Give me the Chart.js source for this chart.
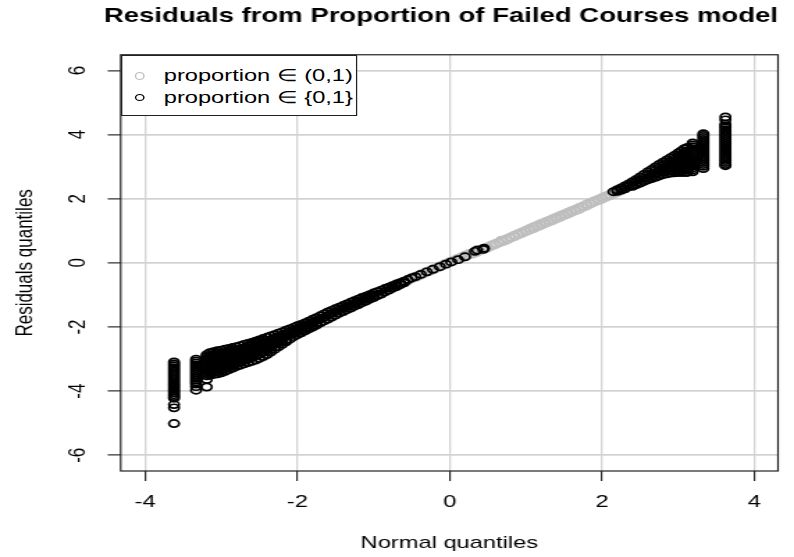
<!DOCTYPE html>
<html>
<head>
<meta charset="utf-8">
<script src="https://cdn.jsdelivr.net/npm/chart.js@4/dist/chart.umd.min.js"></script>
<style>
  html, body { margin: 0; padding: 0; background: #fff; overflow: hidden; }
  /* la figura original está estirada en horizontal: se dibuja a 571px y se escala a 794px */
  #lienzo { position: relative; width: 571px; height: 557px; transform: scaleX(1.3905); transform-origin: 0 0; }
  #grafica { position: absolute; left: 0; top: 0; }
  #leyenda { position: absolute; left: 86.8px; top: 55px; width: 170px; height: 61px; box-sizing: border-box;
             border: 1.2px solid #222; background: #fff; font: 17px "Liberation Sans", Arial, sans-serif; color: #000; }
  .fila { position: absolute; left: 0; height: 20px; line-height: 20px; white-space: nowrap; }
  .circulo { position: absolute; left: 9.3px; top: 6.3px; width: 7.4px; height: 7.4px; border-radius: 50%;
             border: 1.1px solid; box-sizing: border-box; }
  .texto { position: absolute; left: 30px; top: 0; }
</style>
</head>
<body>
<div id="lienzo">
  <canvas id="grafica" width="571" height="557"></canvas>
  <div id="leyenda">
    <div class="fila" style="top: 10px;"><span class="circulo" style="border-color: #bebebe;"></span><span class="texto">proportion ∈ (0,1)</span></div>
    <div class="fila" style="top: 31.5px;"><span class="circulo" style="border-color: #000;"></span><span class="texto">proportion ∈ {0,1}</span></div>
  </div>
</div>
<script>
const titulo = 'Residuals from Proportion of Failed Courses model';
const tituloX = 'Normal quantiles';
const tituloY = 'Residuals quantiles';
const etiquetaGris = 'proportion ∈ (0,1)';
const etiquetaNegra = 'proportion ∈ {0,1}';

const xTicks = [-4, -2, 0, 2, 4];
const yTicks = [-6, -4, -2, 0, 2, 4, 6];

// proporciones en (0,1): cuantil normal -> residuos
const grayX = [-1.00, -0.95, -0.90, -0.85, -0.80, -0.75, -0.70, -0.65, -0.60, -0.55, -0.50, -0.45, -0.40, -0.35,
  -0.30, -0.25, -0.20, -0.15, -0.10, -0.05, 0.00, 0.05, 0.10, 0.15, 0.20, 0.25, 0.30, 0.35, 0.40, 0.45, 0.50,
  0.55, 0.60, 0.65, 0.68, 0.70, 0.75, 0.80, 0.85, 0.90, 0.95, 1.00, 1.05, 1.10, 1.15, 1.20, 1.25, 1.30, 1.35,
  1.40, 1.45, 1.50, 1.55, 1.60, 1.65, 1.70, 1.75, 1.80, 1.85, 1.90, 1.95, 2.00, 2.05, 2.10, 2.15, 2.20, 2.25];
const grayY = [[-1.00, -0.96], [-0.96, -0.92], [-0.91, -0.87], [-0.86, -0.82], [-0.82, -0.78], [-0.76, -0.72],
  [-0.71, -0.67], [-0.66, -0.62], [-0.61, -0.57], [-0.56, -0.52], [-0.50, -0.46], [-0.46, -0.42], [-0.41, -0.37],
  [-0.35, -0.31], [-0.30, -0.26], [-0.26, -0.22], [-0.20, -0.16], [-0.15, -0.11], [-0.10, -0.06], [-0.05, -0.01],
  [0.00, 0.04], [0.05, 0.09], [0.10, 0.14], [0.15, 0.19], [0.20, 0.24], [0.25, 0.29], [0.31, 0.27], [0.36, 0.32],
  [0.41, 0.37], [0.46, 0.42], [0.51, 0.47], [0.56, 0.52], [0.61, 0.57], [0.66, 0.62], [0.71], [0.71, 0.66],
  [0.76, 0.71], [0.81, 0.77], [0.87, 0.82], [0.92, 0.87], [0.97, 0.92], [1.02, 0.97], [1.08, 1.02], [1.13, 1.07],
  [1.18, 1.12], [1.23, 1.17], [1.28, 1.22], [1.33, 1.27], [1.38, 1.32], [1.43, 1.37], [1.48, 1.42], [1.53, 1.47],
  [1.58, 1.52], [1.63, 1.57], [1.68, 1.62], [1.73, 1.67], [1.78, 1.73], [1.84, 1.78], [1.89, 1.84], [1.94, 1.89],
  [1.99, 1.94], [2.04, 1.99], [2.09, 2.04], [2.14, 2.09], [2.19, 2.14], [2.24, 2.19], [2.29, 2.24]];

// proporciones en {0,1}, cola izquierda
const blackLeftX = [-3.62, -3.33, -3.19, -3.15, -3.10, -3.05, -3.00, -2.95, -2.90, -2.85, -2.80, -2.75, -2.70,
  -2.65, -2.60, -2.55, -2.50, -2.45, -2.40, -2.35, -2.30, -2.25, -2.20, -2.15, -2.10, -2.05, -2.00, -1.95, -1.90,
  -1.85, -1.80, -1.75, -1.70, -1.65, -1.60, -1.55, -1.50, -1.45, -1.40, -1.35, -1.30, -1.25, -1.20, -1.15, -1.10,
  -1.05, -1.00, -0.95, -0.90, -0.85, -0.80, -0.75, -0.70, -0.65, -0.60, -0.55, -0.50, -0.45, -0.38, -0.30, -0.22,
  -0.13, -0.05, 0.02, 0.11, 0.20, 0.33, 0.36, 0.44, 0.45];
const blackLeftY = [
  [-3.09, -3.15, -3.21, -3.27, -3.33, -3.39, -3.45, -3.51, -3.57, -3.63, -3.69, -3.75, -3.81, -3.87, -3.93, -3.99,
   -4.05, -4.11, -4.17, -4.22, -4.42, -4.52, -5.01],
  [-3.00, -3.06, -3.12, -3.18, -3.24, -3.30, -3.36, -3.42, -3.48, -3.54, -3.60, -3.66, -3.72, -3.78, -3.86, -3.97],
  [-2.86, -2.92, -2.98, -3.04, -3.10, -3.16, -3.22, -3.28, -3.34, -3.40, -3.46, -3.52, -3.64, -3.87],
  [-2.80, -2.90, -3.00, -3.10, -3.20, -3.30, -3.40, -3.50],
  [-2.77, -2.85, -2.95, -3.05, -3.15, -3.25, -3.35, -3.48],
  [-2.74, -2.80, -2.90, -3.00, -3.10, -3.20, -3.30, -3.40, -3.46],
  [-2.72, -2.85, -2.95, -3.05, -3.15, -3.25, -3.35, -3.43],
  [-2.69, -2.80, -2.90, -3.00, -3.10, -3.20, -3.30, -3.38],
  [-2.67, -2.75, -2.85, -2.95, -3.05, -3.15, -3.25, -3.33],
  [-2.64, -2.70, -2.80, -2.90, -3.00, -3.10, -3.20, -3.28],
  [-2.61, -2.75, -2.85, -2.95, -3.05, -3.15, -3.23],
  [-2.58, -2.70, -2.80, -2.90, -3.00, -3.10, -3.19],
  [-2.54, -2.65, -2.75, -2.85, -2.95, -3.05, -3.15],
  [-2.51, -2.60, -2.70, -2.80, -2.90, -3.00, -3.11],
  [-2.48, -2.55, -2.65, -2.75, -2.85, -2.95, -3.07],
  [-2.44, -2.50, -2.60, -2.70, -2.80, -2.90, -3.03],
  [-2.40, -2.45, -2.55, -2.65, -2.75, -2.85, -2.98],
  [-2.36, -2.40, -2.50, -2.60, -2.70, -2.80, -2.92],
  [-2.32, -2.45, -2.55, -2.65, -2.75, -2.86],
  [-2.28, -2.40, -2.50, -2.60, -2.70, -2.78],
  [-2.24, -2.35, -2.45, -2.55, -2.63, -2.70],
  [-2.19, -2.30, -2.40, -2.50, -2.62],
  [-2.15, -2.25, -2.35, -2.45, -2.54],
  [-2.10, -2.20, -2.30, -2.40, -2.46],
  [-2.06, -2.15, -2.25, -2.38],
  [-2.01, -2.10, -2.20, -2.30],
  [-1.96, -2.05, -2.15, -2.24],
  [-1.92, -2.00, -2.10, -2.18],
  [-1.87, -1.95, -2.05, -2.12],
  [-1.82, -1.90, -2.00, -2.06],
  [-1.76, -1.85, -1.95, -2.00],
  [-1.71, -1.80, -1.88, -1.94],
  [-1.65, -1.75, -1.87],
  [-1.59, -1.70, -1.81],
  [-1.53, -1.64, -1.75],
  [-1.48, -1.58, -1.69],
  [-1.43, -1.53, -1.63],
  [-1.38, -1.47, -1.57],
  [-1.33, -1.42, -1.52],
  [-1.28, -1.37, -1.46],
  [-1.23, -1.32, -1.41],
  [-1.18, -1.27, -1.35],
  [-1.13, -1.21, -1.30],
  [-1.08, -1.16, -1.24],
  [-1.04, -1.11, -1.19],
  [-0.99, -1.06, -1.13],
  [-0.94, -1.01, -1.08],
  [-0.90, -1.02],
  [-0.85, -0.97],
  [-0.80, -0.90],
  [-0.76, -0.85],
  [-0.71, -0.79],
  [-0.66, -0.74],
  [-0.62, -0.68],
  [-0.57, -0.62],
  [-0.52], [-0.47], [-0.43], [-0.36], [-0.28], [-0.20], [-0.12], [-0.04], [0.03], [0.10], [0.19],
  [0.36], [0.40], [0.42], [0.46]
];

// proporciones en {0,1}, cola derecha
const blackRightX = [2.15, 2.20, 2.25, 2.30, 2.35, 2.40, 2.45, 2.50, 2.55, 2.60, 2.65, 2.70, 2.75, 2.80, 2.85,
  2.90, 2.95, 3.00, 3.04, 3.08, 3.12, 3.19, 3.33, 3.62];
const blackRightY = [
  [2.22], [2.28, 2.23], [2.34, 2.27], [2.40, 2.31], [2.46, 2.38],
  [2.53, 2.44, 2.39], [2.60, 2.51, 2.44], [2.68, 2.58, 2.49], [2.76, 2.65, 2.54],
  [2.84, 2.74, 2.64, 2.59], [2.91, 2.80, 2.70, 2.63], [2.99, 2.88, 2.78, 2.67],
  [3.07, 2.96, 2.86, 2.76, 2.71], [3.14, 3.03, 2.93, 2.83, 2.75], [3.21, 3.10, 3.00, 2.90, 2.78],
  [3.28, 3.17, 3.07, 2.97, 2.87, 2.80], [3.35, 3.24, 3.14, 3.04, 2.94, 2.81],
  [3.43, 3.32, 3.22, 3.12, 3.02, 2.92, 2.82],
  [3.49, 3.38, 3.28, 3.18, 3.08, 2.98, 2.88, 2.82],
  [3.56, 3.45, 3.35, 3.25, 3.15, 3.05, 2.95, 2.82],
  [3.60, 3.50, 3.40, 3.30, 3.20, 3.10, 3.00, 2.90, 2.82],
  [3.74, 3.68, 3.62, 3.56, 3.50, 3.44, 3.38, 3.32, 3.26, 3.20, 3.14, 3.08, 3.02, 2.96, 2.90, 2.84],
  [4.03, 3.97, 3.91, 3.85, 3.79, 3.73, 3.67, 3.61, 3.55, 3.49, 3.43, 3.37, 3.31, 3.25, 3.19, 3.13, 3.07, 3.01, 2.94],
  [4.55, 4.46, 4.33, 4.27, 4.21, 4.15, 4.09, 4.03, 3.97, 3.91, 3.85, 3.79, 3.73, 3.67, 3.61, 3.55, 3.49, 3.43,
   3.37, 3.31, 3.25, 3.19, 3.13, 3.07, 3.03]
];

function aPuntos(xs, ys) {
  return xs.flatMap((x, i) => ys[i].map(y => ({ x: x, y: y })));
}

const puntosGrises = aPuntos(grayX, grayY);
const puntosNegros = aPuntos(blackLeftX, blackLeftY).concat(aPuntos(blackRightX, blackRightY));

const fuente = '"Liberation Sans", Arial, sans-serif';

// recuadro alrededor del área del gráfico, como box() en R
const marco = {
  id: 'marco',
  afterDatasetsDraw(chart) {
    const { ctx, chartArea: a } = chart;
    ctx.save();
    ctx.strokeStyle = '#222';
    ctx.lineWidth = 1.2;
    ctx.strokeRect(a.left, a.top, a.right - a.left, a.bottom - a.top);
    ctx.restore();
  }
};

new Chart(document.getElementById('grafica'), {
  type: 'scatter',
  data: {
    datasets: [
      {
        label: etiquetaGris,
        data: puntosGrises,
        borderColor: '#bebebe',
        backgroundColor: 'rgba(0,0,0,0)',
        pointRadius: 3.6,
        pointBorderWidth: 1.5,
        order: 2
      },
      {
        label: etiquetaNegra,
        data: puntosNegros,
        borderColor: '#000',
        backgroundColor: 'rgba(0,0,0,0)',
        pointRadius: 3.6,
        pointBorderWidth: 1.7,
        order: 1
      }
    ]
  },
  options: {
    responsive: false,
    animation: false,
    events: [],
    layout: { padding: { left: 0, right: 11.5, top: 0, bottom: 0 } },
    plugins: {
      legend: { display: false },
      tooltip: { enabled: false },
      title: {
        display: true,
        text: titulo,
        align: 'end',
        color: '#000',
        font: { family: fuente, size: 19.8, weight: 'bold' },
        padding: { top: 5, bottom: 26 }
      }
    },
    scales: {
      x: {
        type: 'linear',
        min: -4.32,
        max: 4.31,
        afterBuildTicks: s => { s.ticks = xTicks.map(v => ({ value: v })); },
        afterFit: s => { s.height = 86; },
        grid: { color: '#d3d3d3', lineWidth: 1.3, tickColor: '#000', tickLength: 10, tickWidth: 1 },
        border: { display: false },
        ticks: {
          color: '#000', font: { family: fuente, size: 17 }, padding: 10.8,
          maxRotation: 0, autoSkip: false, callback: v => String(v)
        },
        title: {
          display: true, text: tituloX, color: '#000',
          font: { family: fuente, size: 17 }, padding: { top: 0, bottom: 3.8 }
        }
      },
      y: {
        type: 'linear',
        min: -6.49,
        max: 6.49,
        afterBuildTicks: s => { s.ticks = yTicks.map(v => ({ value: v })); },
        afterFit: s => { s.width = 86.8; },
        grid: { color: '#d3d3d3', lineWidth: 1.8, tickColor: '#000', tickLength: 9.35, tickWidth: 1 },
        border: { display: false },
        ticks: {
          color: '#000', font: { family: fuente, size: 17 }, padding: 13.5,
          minRotation: 90, maxRotation: 90, crossAlign: 'center', autoSkip: false,
          callback: v => String(v)
        },
        title: {
          display: true, text: tituloY, color: '#000',
          font: { family: fuente, size: 17 }, padding: { top: 7.8, bottom: 0 }
        }
      }
    }
  },
  plugins: [marco]
});
</script>
</body>
</html>
